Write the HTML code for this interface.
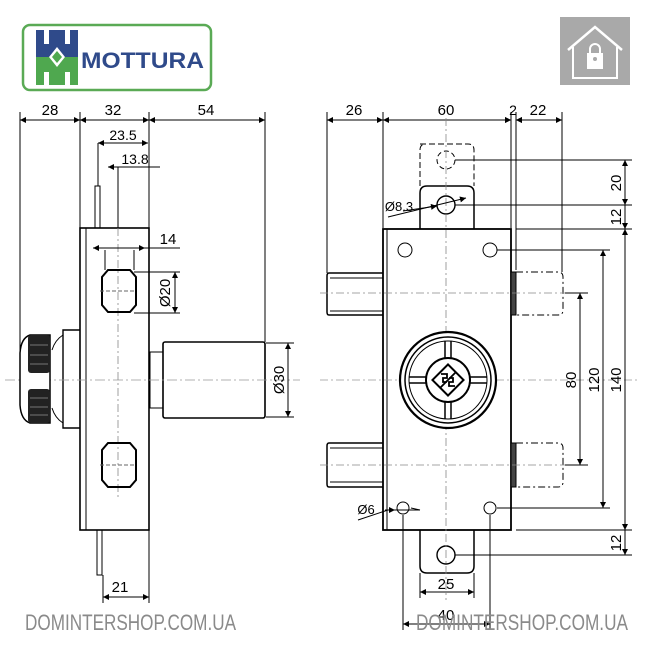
<!DOCTYPE html>
<html><head><meta charset="utf-8"><style>
html,body{margin:0;padding:0;background:#fff;}
svg{display:block}
text{font-family:"Liberation Sans",Arial,sans-serif;}
</style></head><body>
<svg width="650" height="650" viewBox="0 0 650 650" xmlns="http://www.w3.org/2000/svg">
<defs>
<marker id="a" viewBox="0 0 10 10" refX="10" refY="5" markerWidth="9" markerHeight="6" orient="auto-start-reverse" markerUnits="userSpaceOnUse"><path d="M0,0L10,5L0,10z" fill="#000"/></marker>
</defs>
<!-- Logo -->
<rect x="23" y="25" width="188" height="65" rx="7" fill="#fff" stroke="#5aaa55" stroke-width="2.5"/>
<rect x="36" y="30" width="42" height="27" fill="#2f4a8a"/>
<rect x="36" y="57" width="42" height="28" fill="#4fa84f"/>
<polygon points="57,47 65,57 57,67 49,57" fill="#fff"/>
<polygon points="57,51 62,57 57,63 52,57" fill="#4fa84f"/>
<rect x="44" y="30" width="5" height="14" fill="#fff"/><rect x="65" y="30" width="5" height="14" fill="#fff"/>
<rect x="44" y="72" width="5" height="13" fill="#fff"/><rect x="65" y="72" width="5" height="13" fill="#fff"/>
<text x="81" y="68" font-size="22" font-weight="bold" fill="#2f4a8a" textLength="123" lengthAdjust="spacingAndGlyphs">MOTTURA</text>
<!-- icon -->
<rect x="560" y="17" width="70" height="68" fill="#a9a9a9"/>
<path d="M568,50 L595,27 L622,50" fill="none" stroke="#fff" stroke-width="2.5"/>
<path d="M573,47 V78 H617 V47" fill="none" stroke="#fff" stroke-width="2"/>
<rect x="587" y="53" width="16" height="16" fill="#fff"/>
<path d="M590,53 v-4 a5,5 0 0 1 10,0 v4" fill="none" stroke="#fff" stroke-width="2"/>
<circle cx="595" cy="59" r="2" fill="#a9a9a9"/>

<g stroke="#000" fill="none" stroke-width="1">
<line x1="20" y1="112" x2="20" y2="380"/><line x1="80" y1="112" x2="80" y2="228"/>
<line x1="149" y1="112" x2="149" y2="228"/><line x1="265" y1="112" x2="265" y2="342"/>
<line x1="20" y1="120" x2="80" y2="120" marker-start="url(#a)" marker-end="url(#a)"/>
<line x1="80" y1="120" x2="149" y2="120" marker-start="url(#a)" marker-end="url(#a)"/>
<line x1="149" y1="120" x2="265" y2="120" marker-start="url(#a)" marker-end="url(#a)"/>
<line x1="98" y1="143" x2="98" y2="186"/>
<line x1="98" y1="143" x2="148" y2="143" marker-start="url(#a)" marker-end="url(#a)"/>
<line x1="108" y1="167" x2="160" y2="167"/>
<line x1="118" y1="167" x2="118" y2="228"/>
<path d="M108,167 h10 M148,167 h12" marker-start="url(#a)"/>
<rect x="95" y="186" width="5" height="42"/>
<rect x="80" y="228" width="69" height="302" stroke-width="1.6"/>
<line x1="86" y1="228" x2="86" y2="530"/>
<path d="M80,330 H63 V428 H80" stroke-width="1.4"/>
<path d="M63,335 Q55,340 52,350 M63,423 Q55,418 52,408" />
<rect x="150" y="352" width="13" height="56"/>
<rect x="163" y="342" width="102" height="76" rx="2" stroke-width="1.6"/>
<line x1="5" y1="380" x2="300" y2="380" stroke="#999" stroke-dasharray="10,3,2,3" stroke-width="0.8"/>
<line x1="118" y1="228" x2="118" y2="500" stroke="#888" stroke-dasharray="8,3,2,3" stroke-width="0.8"/>
<path d="M108,270 H130 L136,277 V305 L130,312 H108 L102,305 V277 Z" stroke-width="2"/>
<path d="M108,443 H130 L136,450 V480 L130,487 H108 L102,480 V450 Z" stroke-width="2"/>
<line x1="100" y1="291" x2="136" y2="291" stroke-dasharray="4,2" stroke="#666"/>
<line x1="100" y1="465" x2="136" y2="465" stroke-dasharray="4,2" stroke="#666"/>
<line x1="93" y1="248" x2="180" y2="248"/>
<path d="M93,248 h10" marker-start="url(#a)"/><path d="M145,248 h-10" marker-start="url(#a)"/>
<line x1="105" y1="250" x2="105" y2="270"/><line x1="134" y1="250" x2="134" y2="270"/>
<line x1="134" y1="272" x2="180" y2="272"/><line x1="134" y1="313" x2="180" y2="313"/>
<line x1="175" y1="272" x2="175" y2="313" marker-start="url(#a)" marker-end="url(#a)"/>
<line x1="266" y1="343" x2="294" y2="343"/><line x1="266" y1="417" x2="294" y2="417"/>
<line x1="288" y1="343" x2="288" y2="417" marker-start="url(#a)" marker-end="url(#a)"/>
<rect x="97" y="530" width="5" height="45"/>
<line x1="103" y1="575" x2="103" y2="603"/><line x1="149" y1="530" x2="149" y2="603"/>
<line x1="103" y1="597" x2="149" y2="597" marker-start="url(#a)" marker-end="url(#a)"/>
</g>
<path d="M30,335 H50 V423 H30 Q21,420 20,405 V353 Q21,338 30,335Z" fill="#fff" stroke="#000" stroke-width="1.5"/>
<rect x="28" y="335" width="22" height="38" rx="3" fill="#222"/>
<rect x="28" y="389" width="22" height="34" rx="3" fill="#222"/>
<g stroke="#777" stroke-width="1"><line x1="30" y1="345" x2="48" y2="345"/><line x1="30" y1="355" x2="48" y2="355"/><line x1="30" y1="364" x2="48" y2="364"/><line x1="30" y1="398" x2="48" y2="398"/><line x1="30" y1="407" x2="48" y2="407"/><line x1="30" y1="415" x2="48" y2="415"/></g>

<g font-size="15" fill="#000" text-anchor="middle">
<text x="50" y="115">28</text><text x="113" y="115">32</text><text x="206" y="115">54</text>
<text x="123" y="140" font-size="14">23.5</text><text x="135" y="164" font-size="14">13.8</text>
<text x="168" y="244">14</text><text x="120" y="592">21</text>
<text transform="translate(170,293) rotate(-90)">Ø20</text>
<text transform="translate(284,380) rotate(-90)">Ø30</text>
</g>

<g stroke="#000" fill="none" stroke-width="1">
<line x1="327" y1="112" x2="327" y2="273"/><line x1="383" y1="112" x2="383" y2="228"/>
<line x1="511" y1="112" x2="511" y2="228"/><line x1="516" y1="112" x2="516" y2="270"/><line x1="562" y1="112" x2="562" y2="272"/>
<line x1="327" y1="120" x2="383" y2="120" marker-start="url(#a)" marker-end="url(#a)"/>
<line x1="383" y1="120" x2="511" y2="120" marker-start="url(#a)" marker-end="url(#a)"/>
<path d="M498,120 h13" marker-end="url(#a)"/><path d="M530,120 h-14" marker-end="url(#a)"/>
<line x1="516" y1="120" x2="562" y2="120" marker-start="url(#a)" marker-end="url(#a)"/>
<path d="M420,144 H468 Q474,144 474,150 V186 M420,186 V150 Q420,144 426,144" stroke-dasharray="6,3"/>
<circle cx="446" cy="160" r="9" stroke-dasharray="5,3"/>
<path d="M420,229 V193 Q420,186 427,186 H467 Q474,186 474,193 V229" stroke-width="1.5"/>
<circle cx="446" cy="205" r="9" stroke-width="1.4"/>
<path d="M420,530 V566 Q420,573 427,573 H467 Q474,573 474,566 V530" stroke-width="1.5"/>
<circle cx="446" cy="555" r="9" stroke-width="1.4"/>
<rect x="383" y="229" width="128" height="301" stroke-width="1.8"/>
<line x1="387" y1="229" x2="387" y2="530"/>
<rect x="511" y="272" width="5" height="43" fill="#444"/>
<rect x="511" y="443" width="5" height="44" fill="#444"/>
<circle cx="405" cy="250" r="7"/><circle cx="490" cy="250" r="7"/>
<circle cx="403" cy="508" r="6"/><circle cx="490" cy="508" r="6"/>
<path d="M383,273 H329 Q327,273 327,276 V312 Q327,315 329,315 H383" stroke-width="1.5"/>
<line x1="330" y1="278" x2="383" y2="278"/><line x1="330" y1="311" x2="383" y2="311"/>
<path d="M383,443 H329 Q327,443 327,446 V484 Q327,487 329,487 H383" stroke-width="1.5"/>
<line x1="330" y1="448" x2="383" y2="448"/><line x1="330" y1="482" x2="383" y2="482"/>
<path d="M516,272 H558 Q563,272 563,277 V310 Q563,315 558,315 H516" stroke-dasharray="7,3,2,3"/>
<path d="M516,443 H558 Q563,443 563,448 V482 Q563,487 558,487 H516" stroke-dasharray="7,3,2,3"/>
<line x1="320" y1="293" x2="580" y2="293" stroke="#888" stroke-dasharray="8,3,2,3" stroke-width="0.8"/>
<line x1="320" y1="465" x2="580" y2="465" stroke="#888" stroke-dasharray="8,3,2,3" stroke-width="0.8"/>
<line x1="320" y1="380" x2="640" y2="380" stroke="#999" stroke-dasharray="8,3,2,3" stroke-width="0.8"/>
<line x1="446" y1="118" x2="446" y2="600" stroke="#888" stroke-dasharray="8,3,2,3" stroke-width="0.8"/>
<circle cx="448" cy="380" r="48" stroke-width="2.2" fill="#fff"/>
<circle cx="448" cy="380" r="43" stroke-width="1.5"/>
<circle cx="448" cy="380" r="39" stroke-width="1"/>
<circle cx="448" cy="380" r="22" stroke-width="2"/>
<path d="M445,341 V358 M451,341 V358 M445,402 V419 M451,402 V419 M409,377 H426 M409,383 H426 M470,377 H487 M470,383 H487" stroke-width="1.5"/>
<rect x="437" y="369" width="22" height="22" transform="rotate(45 448 380)" stroke-width="2"/>
<path d="M441,374 h6 v4 h-4 v4 h4 M455,386 h-6 v-4 h4 v-4 h-4 M440,388 L456,372" stroke-width="1.8"/>
<line x1="455" y1="160" x2="632" y2="160"/><line x1="455" y1="205" x2="632" y2="205"/>
<line x1="516" y1="229" x2="632" y2="229"/><line x1="497" y1="250" x2="610" y2="250"/>
<line x1="565" y1="293" x2="588" y2="293"/><line x1="565" y1="465" x2="588" y2="465"/>
<line x1="497" y1="508" x2="610" y2="508"/><line x1="516" y1="530" x2="632" y2="530"/>
<line x1="455" y1="555" x2="632" y2="555"/>
<line x1="625" y1="160" x2="625" y2="205" marker-start="url(#a)" marker-end="url(#a)"/>
<line x1="625" y1="205" x2="625" y2="229" marker-end="url(#a)"/>
<line x1="625" y1="229" x2="625" y2="530" marker-start="url(#a)" marker-end="url(#a)"/>
<line x1="625" y1="530" x2="625" y2="555" marker-end="url(#a)"/>
<line x1="603" y1="250" x2="603" y2="508" marker-start="url(#a)" marker-end="url(#a)"/>
<line x1="580" y1="293" x2="580" y2="465" marker-start="url(#a)" marker-end="url(#a)"/>
<path d="M388,217 L466,198" marker-end="url(#a)"/>
<path d="M403,211 L437,206" marker-end="url(#a)"/>
<path d="M358,520 L388,510 H420" />
<path d="M385,510 h10" marker-end="url(#a)"/><path d="M420,510 l-9,-2" />
<line x1="420" y1="573" x2="420" y2="598"/><line x1="474" y1="573" x2="474" y2="598"/>
<line x1="420" y1="592" x2="474" y2="592" marker-start="url(#a)" marker-end="url(#a)"/>
<line x1="403" y1="515" x2="403" y2="630"/><line x1="490" y1="515" x2="490" y2="630"/>
<line x1="403" y1="624" x2="490" y2="624" marker-start="url(#a)" marker-end="url(#a)"/>
</g>
<g font-size="15" fill="#000" text-anchor="middle">
<text x="354" y="115">26</text><text x="446" y="115">60</text><text x="513" y="115" font-size="14">2</text><text x="538" y="115">22</text>
<text x="399" y="211" font-size="13">Ø8.3</text><text x="366" y="514" font-size="13">Ø6</text>
<text x="446" y="589">25</text><text x="446" y="620">40</text>
<text transform="translate(621,183) rotate(-90)">20</text>
<text transform="translate(621,217) rotate(-90)">12</text>
<text transform="translate(621,543) rotate(-90)">12</text>
<text transform="translate(621,380) rotate(-90)">140</text>
<text transform="translate(599,380) rotate(-90)">120</text>
<text transform="translate(576,380) rotate(-90)">80</text>
</g>
<text x="25" y="630" font-size="22" fill="#8a8a8a" textLength="211" lengthAdjust="spacingAndGlyphs">DOMINTERSHOP.COM.UA</text>
<text x="416" y="630" font-size="22" fill="#8a8a8a" textLength="212" lengthAdjust="spacingAndGlyphs">DOMINTERSHOP.COM.UA</text>
</svg>
</body></html>
